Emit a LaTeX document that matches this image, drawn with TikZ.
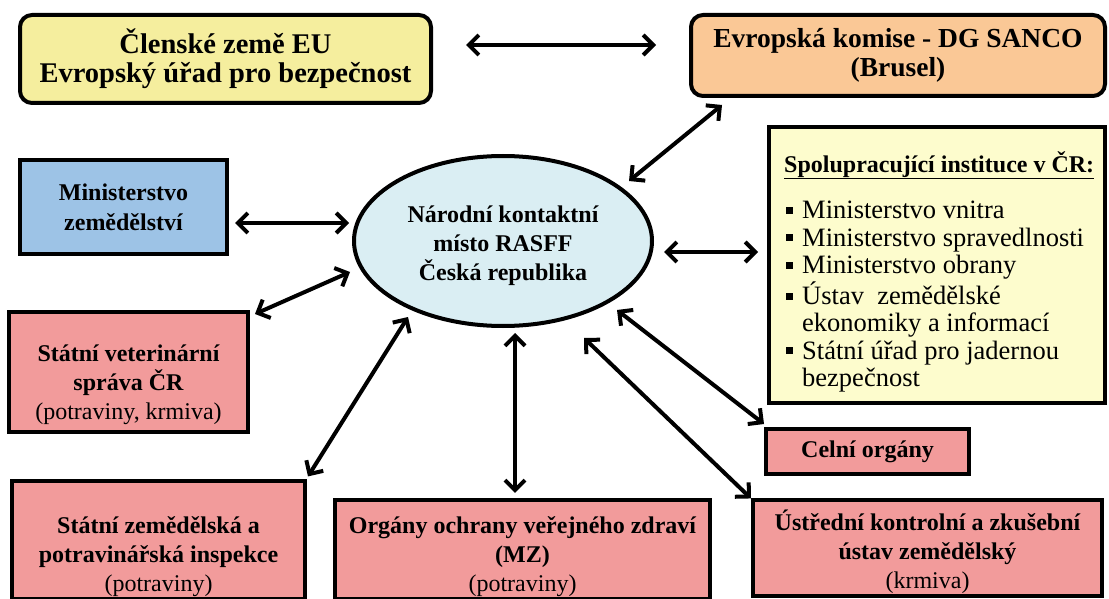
\documentclass[tikz,border=0pt]{standalone}
\usepackage{fontspec}
\setmainfont{Liberation Serif}
\usetikzlibrary{arrows.meta,shapes.geometric,calc}
\definecolor{euyellow}{HTML}{F5EE9E}
\definecolor{peach}{HTML}{FAC896}
\definecolor{mzblue}{HTML}{9DC3E6}
\definecolor{ellblue}{HTML}{DAEEF3}
\definecolor{pinkbox}{HTML}{F29B9B}
\definecolor{lightyel}{HTML}{FDFCCD}
\newcommand{\myblt}{\hspace{2pt}\raisebox{5pt}{\rule{7pt}{7pt}}}
\newcommand{\tstrut}[1]{\rule{0pt}{#1}}
\begin{document}
\begin{tikzpicture}[x=1pt,y=-1pt,
  box/.style={draw=black, line width=4pt, inner sep=2pt, outer sep=0pt, align=center,
    font=\fontsize{24}{29}\selectfont\bfseries},
  topbox/.style={box, rounded corners=12pt, font=\fontsize{28.5}{29}\selectfont\bfseries},
  pinkb/.style={box, fill=pinkbox},
  arr/.style={line width=4pt, line join=miter,
    {Straight Barb[length=10pt,width=20pt]}-{Straight Barb[length=10pt,width=20pt]}}
]
\useasboundingbox (0,0) rectangle (1109,599);

% nodes
\node[topbox, fill=euyellow, minimum width=411pt, minimum height=88pt] (eu) at (225.5,59)
  {Členské země EU\\Evropský úřad pro bezpečnost};
\node[topbox, fill=peach, minimum width=414pt, minimum height=81pt,
  font=\fontsize{27.5}{29}\selectfont\bfseries] (sanco) at (898,55.5)
  {Evropská komise - DG SANCO\\(Brusel)};
\node[box, fill=mzblue, minimum width=207pt, minimum height=94pt,
  font=\fontsize{24}{30}\selectfont\bfseries] (mz) at (123.5,207)
  {Ministerstvo\\zemědělství};
\node[box, ellipse, fill=ellblue, inner sep=0pt, minimum width=298pt, minimum height=170pt] (rasff) at (503,241)
  {\tstrut{26pt}Národní kontaktní\\místo RASFF\\Česká republika};
\node[box, fill=lightyel, minimum width=336pt, minimum height=276pt] (spol) at (937,265) {};
\node[anchor=base west, inner sep=0pt, font=\fontsize{26.5}{27.3}\selectfont] (spoltext)
  at ($(spol.north west)+(15,45)$)
  {\begin{tabular}[t]{@{}l@{\hspace{9pt}}l@{}}
   \multicolumn{2}{@{}l@{}}{\fontsize{24}{27.3}\selectfont\textbf{\underline{Spolupracující instituce v ČR:}}}\\[19.7pt]
   \myblt & Ministerstvo vnitra\\
   \myblt & Ministerstvo spravedlnosti\\
   \myblt & Ministerstvo obrany\\
   \myblt & Ústav\ \ zemědělské\\
          & ekonomiky a informací\\
   \myblt & Státní úřad pro jadernou\\
          & bezpečnost
   \end{tabular}};
\node[pinkb, minimum width=239pt, minimum height=120pt] (svs) at (128.5,372)
  {\tstrut{42pt}Státní veterinární\\správa ČR\\{\mdseries (potraviny, krmiva)}};
\node[pinkb, minimum width=203pt, minimum height=45pt] (celni) at (867.5,451.5)
  {Celní orgány};
\node[pinkb, minimum width=293pt, minimum height=110pt] (szpi) at (158.5,540)
  {\tstrut{50pt}Státní zemědělská a\\potravinářská inspekce\\{\mdseries (potraviny)}};
\node[pinkb, minimum width=375pt, minimum height=91pt] (oovz) at (522.5,549.5)
  {\tstrut{32pt}Orgány ochrany veřejného zdraví\\(MZ)\\{\mdseries (potraviny)}};
\node[pinkb, minimum width=349pt, minimum height=94pt] (ustr) at (927.5,548)
  {\tstrut{28pt}Ústřední kontrolní a zkušební\\ústav zemědělský\\{\mdseries (krmiva)}};

% connectors
\draw[arr] ($(eu.east)+(35,-14)$) -- ($(sanco.west)+(-35,-10.5)$);
\draw[arr] ($(rasff.center)+(126,-60)$) -- ($(sanco.south west)+(31,9)$);
\draw[arr] ($(mz.east)+(8,16)$) -- ($(rasff.west)+(-5,-18)$);
\draw[arr] ($(svs.north east)+(7,2)$) -- ($(rasff.west)+(-4,31)$);
\draw[arr] ($(rasff.east)+(12,11)$) -- ($(spol.west)+(-11,-13)$);
\draw[arr] ($(rasff.center)+(-95,76)$) -- ($(szpi.north east)+(3,-5)$);
\draw[arr] ($(rasff.south)+(12,7)$) -- ($(oovz.north)+(-7.5,-7)$);
\draw[arr] ($(rasff.center)+(81,97)$) -- ($(ustr.north west)+(-2,-2)$);
\draw[arr] ($(rasff.center)+(114,69)$) -- ($(celni.north west)+(-2,-5)$);
\end{tikzpicture}
\end{document}
